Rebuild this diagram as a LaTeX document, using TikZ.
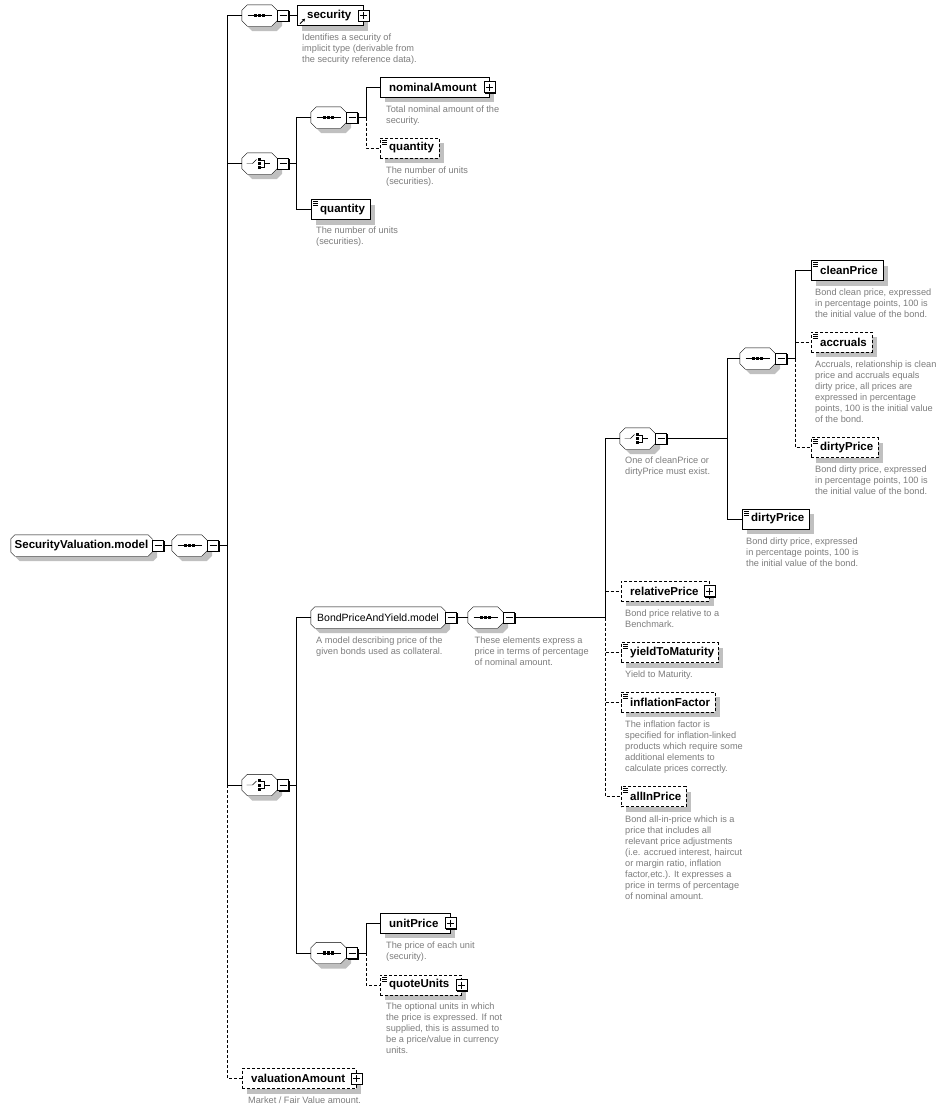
\documentclass[tikz,border=0pt]{standalone}
\usepackage{fontspec}
\setmainfont{Liberation Sans}
\usetikzlibrary{shadows,arrows.meta}
\pgfdeclarelayer{base}
\pgfdeclarelayer{back}
\pgfsetlayers{base,back,main}
\definecolor{descgray}{RGB}{125,125,125}
\definecolor{shgray}{RGB}{192,192,192}
\newcommand\fel{\fontsize{11.5}{13}\selectfont\bfseries}
\newcommand\fdesc{\fontsize{9.2}{11}\selectfont}
\newcommand\fmg{\fontsize{10.5}{12}\selectfont}
\newcommand\elt[2]{\makebox[#1pt][l]{\hspace{9pt}#2}}
% octagon path around node #1, chamfer #2, offset (#3,#4) in image coordinates
\newcommand\octpath[4]{([shift={(#3+#2,#4)}]#1.north west) -- ([shift={(#3-#2,#4)}]#1.north east) -- ([shift={(#3,#4+#2)}]#1.north east) -- ([shift={(#3,#4-#2)}]#1.south east) -- ([shift={(#3-#2,#4)}]#1.south east) -- ([shift={(#3+#2,#4)}]#1.south west) -- ([shift={(#3,#4-#2)}]#1.south west) -- ([shift={(#3,#4+#2)}]#1.north west) -- cycle}
\newcommand\oct[2]{\begin{pgfonlayer}{back}\fill[shgray] \octpath{#1}{#2}{5}{5};\filldraw[fill=white,draw=black] \octpath{#1}{#2}{0}{0};\end{pgfonlayer}}
\newcommand\seqicon[1]{\draw ([shift={(-12,0)}]#1.center) -- ([shift={(12,0)}]#1.center);
  \foreach \d in {-4,0,4}{\fill ([shift={(\d-1.6,-1.6)}]#1.center) rectangle ([shift={(\d+1.6,1.6)}]#1.center);}}
\newcommand\choiceicon[1]{\draw ([shift={(-13,0)}]#1.center) -- ([shift={(-7,0)}]#1.center) -- ([shift={(-3,-4)}]#1.center);
  \foreach \d in {-4.3,0,4.3}{\fill ([shift={(-1.6,\d-1.5)}]#1.center) rectangle ([shift={(1.6,\d+1.5)}]#1.center);}
  \draw ([shift={(1.6,-3.5)}]#1.center) -- ([shift={(5,-3.5)}]#1.center) -- ([shift={(5,3.5)}]#1.center) -- ([shift={(1.6,3.5)}]#1.center);
  \draw ([shift={(5,0)}]#1.center) -- ([shift={(10,0)}]#1.center);}
\newcommand\simp[1]{\draw[line width=0.7pt] ([shift={(2,2.5)}]#1.north west) -- ++(5,0) ([shift={(2,4.5)}]#1.north west) -- ++(5,0) ([shift={(2,6.5)}]#1.north west) -- ++(5,0);}
\begin{document}
\begin{tikzpicture}[x=1pt,y=-1pt,line width=0.9pt,
  el/.style={draw,fill=white,rectangle,anchor=west,minimum height=20pt,inner sep=0pt,font=\fel,
    general shadow={fill=shgray,shadow xshift=5pt,shadow yshift=-5pt}},
  opt/.style={dash pattern=on 3pt off 2pt},
  grp/.style={rectangle,minimum width=35pt,minimum height=21pt,inner sep=0pt},
  mg/.style={rectangle,minimum height=21pt,inner sep=0pt},
  desc/.style={anchor=north west,align=left,inner sep=0pt,text=descgray,font=\fdesc},
  mb/.style={draw,fill=white,minimum size=11pt,inner sep=0pt,anchor=west,line width=0.8pt,
    general shadow={fill=black,shadow xshift=1pt,shadow yshift=-1pt},
    path picture={\draw[line width=0.8pt] ([xshift=2pt]path picture bounding box.west) -- ([xshift=-2pt]path picture bounding box.east);}},
  pb/.style={draw,fill=white,minimum size=11pt,inner sep=0pt,anchor=center,line width=0.8pt,
    general shadow={fill=black,shadow xshift=1pt,shadow yshift=-1pt},
    path picture={\draw[line width=0.8pt] ([xshift=2pt]path picture bounding box.west) -- ([xshift=-2pt]path picture bounding box.east)
      ([yshift=-2pt]path picture bounding box.north) -- ([yshift=2pt]path picture bounding box.south);}}
]
\useasboundingbox (0,0) rectangle (945,1111);
\begin{pgfonlayer}{base}\fill[white] (0,0) rectangle (945,1111);\end{pgfonlayer}

% column coordinates
\coordinate (trunk) at (227.5,0);
\coordinate (c2) at (296.5,0);
\coordinate (c3) at (366,0);
\coordinate (c4) at (605.5,0);
\coordinate (c5) at (727,0);
\coordinate (c6) at (795.5,0);

% root
\node[mg,minimum width=141pt,font=\fel] (root) at (81.5,545.5) {SecurityValuation.model};
\oct{root}{4}
\node[mb] (rootm) at (root.east) {};
\node[grp] (seq0) at (189.5,545.5) {};
\oct{seq0}{5.5}\seqicon{seq0}
\node[mb] (seq0m) at (seq0.east) {};

% branch A : security
\node[grp] (seqA) at (259.5,15.5) {};
\oct{seqA}{5.5}\seqicon{seqA}
\node[mb] (seqAm) at (seqA.east) {};
\node[el] (security) at (297,15.5) {\makebox[66pt][l]{\hspace{10pt}security}};
\node[pb] (securityp) at (security.east) {};
\draw[-{Stealth[length=3pt,width=3.5pt]},line width=0.8pt] ([shift={(3,-2)}]security.south west) -- ([shift={(8,-7)}]security.south west);
\node[desc] (dsecurity) at (302,34) {Identifies a security of\\implicit type (derivable from\\the security reference data).};

% branch B : choice
\node[grp] (choiceB) at (259.5,163.5) {};
\oct{choiceB}{5.5}\choiceicon{choiceB}
\node[mb] (choiceBm) at (choiceB.east) {};
\node[grp] (seqC) at (328.5,117.5) {};
\oct{seqC}{5.5}\seqicon{seqC}
\node[mb] (seqCm) at (seqC.east) {};
\node[el] (nominal) at (380,87) {\elt{109}{nominalAmount}};
\node[pb] (nominalp) at (nominal.east) {};
\node[desc] (dnominal) at (386,106) {Total nominal amount of the\\security.};
\node[el,opt] (qty1) at (380,148) {\elt{59}{quantity}};
\simp{qty1}
\node[desc] (dqty1) at (386,167) {The number of units\\(securities).};
\node[el] (qty2) at (311,209.5) {\elt{59}{quantity}};
\simp{qty2}
\node[desc] (dqty2) at (316,227) {The number of units\\(securities).};

% branch D : choice
\node[grp] (choiceD) at (259.5,785) {};
\oct{choiceD}{5.5}\choiceicon{choiceD}
\node[mb] (choiceDm) at (choiceD.east) {};
\node[mg,minimum width=134pt,font=\fmg] (bond) at (378,617.5) {BondPriceAndYield.model};
\oct{bond}{4}
\node[mb] (bondm) at (bond.east) {};
\node[desc] (dbond) at (316,637) {A model describing price of the\\given bonds used as collateral.};
\node[grp] (seqE) at (485.5,617.5) {};
\oct{seqE}{5.5}\seqicon{seqE}
\node[mb] (seqEm) at (seqE.east) {};
\node[desc] (dseqE) at (474.5,637) {These elements express a\\price in terms of percentage\\of nominal amount.};

\node[grp] (choiceF) at (637.5,438.5) {};
\oct{choiceF}{5.5}\choiceicon{choiceF}
\node[mb] (choiceFm) at (choiceF.east) {};
\node[desc] (dchoiceF) at (625,457) {One of cleanPrice or\\dirtyPrice must exist.};
\node[grp] (seqG) at (757.5,358.5) {};
\oct{seqG}{5.5}\seqicon{seqG}
\node[mb] (seqGm) at (seqG.east) {};

\node[el] (clean) at (811,270.5) {\elt{72}{cleanPrice}};
\simp{clean}
\node[desc] (dclean) at (815,289) {Bond clean price, expressed\\in percentage points, 100 is\\the initial value of the bond.};
\node[el,opt] (accr) at (811,342) {\elt{61}{accruals}};
\simp{accr}
\node[desc] (daccr) at (815,361) {Accruals, relationship is clean\\price and accruals equals\\dirty price, all prices are\\expressed in percentage\\points, 100 is the initial value\\of the bond.};
\node[el,opt] (dirty1) at (811,447.5) {\elt{67}{dirtyPrice}};
\simp{dirty1}
\node[desc] (ddirty1) at (815,466) {Bond dirty price, expressed\\in percentage points, 100 is\\the initial value of the bond.};
\node[el] (dirty2) at (742,519) {\elt{67}{dirtyPrice}};
\simp{dirty2}
\node[desc] (ddirty2) at (746,538) {Bond dirty price, expressed\\in percentage points, 100 is\\the initial value of the bond.};

\node[el,opt] (relp) at (621,591) {\elt{88}{relativePrice}};
\node[pb] (relpp) at (relp.east) {};
\node[desc] (drelp) at (625,610) {Bond price relative to a\\Benchmark.};
\node[el,opt] (ytm) at (621,652.5) {\elt{97}{yieldToMaturity}};
\simp{ytm}
\node[desc] (dytm) at (625,671) {Yield to Maturity.};
\node[el,opt] (infl) at (621,702) {\elt{94}{inflationFactor}};
\simp{infl}
\node[desc] (dinfl) at (625,721) {The inflation factor is\\specified for inflation-linked\\products which require some\\additional elements to\\calculate prices correctly.};
\node[el,opt] (allin) at (621,796.5) {\elt{65}{allInPrice}};
\simp{allin}
\node[desc] (dallin) at (625,816) {Bond all-in-price which is a\\price that includes all\\relevant price adjustments\\(i.e. accrued interest, haircut\\or margin ratio, inflation\\factor,etc.). It expresses a\\price in terms of percentage\\of nominal amount.};

\node[grp] (seqH) at (328.5,953) {};
\oct{seqH}{5.5}\seqicon{seqH}
\node[mb] (seqHm) at (seqH.east) {};
\node[el] (unitp) at (380,923) {\elt{70}{unitPrice}};
\node[pb] (unitpp) at (unitp.east) {};
\node[desc] (dunitp) at (386,942) {The price of each unit\\(security).};
\node[el,opt] (quote) at (380,985) {\elt{81}{quoteUnits}};
\simp{quote}
\node[pb] (quotep) at (quote.east) {};
\node[desc] (dquote) at (386,1003) {The optional units in which\\the price is expressed. If not\\supplied, this is assumed to\\be a price/value in currency\\units.};

% valuationAmount
\node[el,opt] (valam) at (242,1078.5) {\elt{114}{valuationAmount}};
\node[pb] (valamp) at (valam.east) {};
\node[desc] (dvalam) at (248,1097) {Market / Fair Value amount.};

% connectors
\draw (rootm.east) -- (seq0.west);
\draw (seq0m.east) -- (seq0m.east -| trunk);
\draw (seqA.west) -- (seqA.west -| trunk) -- (choiceD.west -| trunk) -- (choiceD.west);
\draw (choiceB.west -| trunk) -- (choiceB.west);
\draw[opt] (choiceD.west -| trunk) |- (valam.west);
\draw (seqAm.east) -- (security.west);
\draw (choiceBm.east) -- (choiceBm.east -| c2);
\draw (seqC.west) -- (seqC.west -| c2) |- (qty2.west);
\draw (seqCm.east) -- (seqCm.east -| c3) |- (nominal.west);
\draw[opt] (seqCm.east -| c3) |- (qty1.west);
\draw (choiceDm.east) -- (choiceDm.east -| c2);
\draw (bond.west) -- (bond.west -| c2) |- (seqH.west);
\draw (bondm.east) -- (seqE.west);
\draw (seqEm.east) -- (seqEm.east -| c4);
\draw (choiceF.west) -- (choiceF.west -| c4) -- (seqEm.east -| c4);
\draw[opt] (seqEm.east -| c4) |- (allin.west);
\draw[opt] (relp.west -| c4) -- (relp.west);
\draw[opt] (ytm.west -| c4) -- (ytm.west);
\draw[opt] (infl.west -| c4) -- (infl.west);
\draw (choiceFm.east) -- (choiceFm.east -| c5);
\draw (seqG.west) -- (seqG.west -| c5) |- (dirty2.west);
\draw (seqGm.east) -- (seqGm.east -| c6) |- (clean.west);
\draw[opt] (seqGm.east -| c6) |- (dirty1.west);
\draw[opt] (accr.west -| c6) -- (accr.west);
\draw (seqHm.east) -- (seqHm.east -| c3) |- (unitp.west);
\draw[opt] (seqHm.east -| c3) |- (quote.west);
\end{tikzpicture}
\end{document}
